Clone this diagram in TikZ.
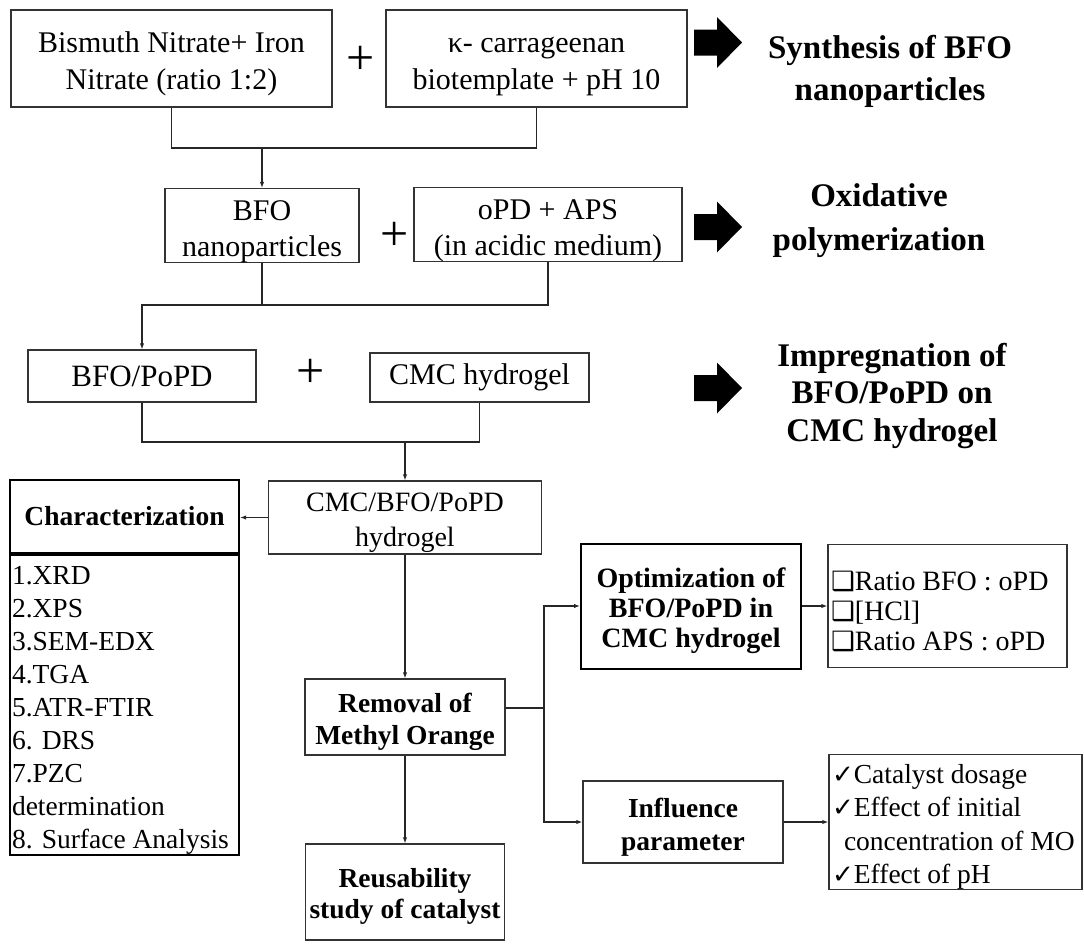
\documentclass[tikz,border=0pt]{standalone}
\usepackage{fontspec}
\setmainfont{Liberation Serif}
\newfontfamily\symfont{DejaVu Sans}[Scale=0.95]
\usetikzlibrary{arrows.meta}
\newcommand{\fs}[2]{\fontsize{#1pt}{#2pt}\selectfont}
\newcommand{\tstrut}{\rule{0pt}{1.05em}}
\newcommand{\chkbox}{{\symfont ❑}}
\newcommand{\tick}{{\symfont ✓}}
\newcommand{\blockarrow}[2]{\fill (#1,#2) ++(0,-13) -- ++(23,0) -- ++(0,-12.5) -- ++(25,25.5) -- ++(-25,25.5) -- ++(0,-12.5) -- ++(-23,0) -- cycle;}

\begin{document}
\begin{tikzpicture}[x=0.5pt,y=-0.5pt,
    box/.style={draw=black!80, line width=0.6pt, inner sep=0pt, align=center},
    thickbox/.style={box, draw=black, line width=1pt},
    title/.style={font=\bfseries\fs{16.5}{21}, align=center},
    link/.style={draw=black!85, line width=0.6pt},
    arr/.style={link, -{Latex[length=3pt,width=2.2pt]}},
    plus/.style={font=\fs{25}{25}, inner sep=0pt}]
\useasboundingbox (0,0) rectangle (1084,944);
% synthesis of BFO
\node[box, minimum width=160.5pt, minimum height=48.5pt, font=\fs{15}{18.5}] (bini) at (171.5,58.5) {\tstrut Bismuth Nitrate+ Iron\\Nitrate (ratio 1:2)};
\node[plus] (plusa) at (361,60) {+};
\node[box, minimum width=150.5pt, minimum height=48.5pt, font=\fs{15}{18.5}] (kcar) at (536.5,58.5) {\tstrut κ- carrageenan\\biotemplate + pH 10};
\blockarrow{694}{42.5}
\node[title] (syn) at (890,66) {\tstrut Synthesis of BFO\\nanoparticles};
\coordinate (ja) at (262,148);
\draw[link] (bini.south) |- (ja) -| (kcar.south);
% polymerization
\node[box, minimum width=97pt, minimum height=36.5pt, font=\fs{15}{18}] (bfo) at (262,225.5) {\tstrut BFO\\nanoparticles};
\node[plus] (plusb) at (395,236) {+};
\node[box, minimum width=134pt, minimum height=36.5pt, font=\fs{15}{18}] (opd) at (548,224.5) {\tstrut oPD + APS\\(in acidic medium)};
\blockarrow{694}{227}
\node[title, font=\bfseries\fs{16.5}{22}] (oxi) at (879,215) {\tstrut Oxidative\\polymerization};
\draw[arr] (ja) -- (bfo.north);
\coordinate (jb) at (262,305);
\draw[link] (bfo.south) -- (jb) -| (opd.south);
% impregnation
\node[box, minimum width=114pt, minimum height=26pt, font=\fs{15.5}{18}] (bp) at (142,376) {BFO/PoPD};
\node[plus] (plusc) at (311,373) {+};
\node[box, minimum width=109.5pt, minimum height=24.5pt, font=\fs{15}{18}] (cmc) at (479.5,377.5) {CMC hydrogel};
\blockarrow{694}{388}
\node[title, font=\bfseries\fs{16.5}{18.75}] (imp) at (892,390) {\tstrut Impregnation of\\BFO/PoPD on\\CMC hydrogel};
\draw[arr] (jb) -| (bp.north);
\coordinate (jc) at (405,442);
\draw[link] (bp.south) |- (jc) -| (cmc.south);
% hydrogel and characterization
\node[box, minimum width=136.5pt, minimum height=36.5pt, font=\fs{14}{17.5}] (hyd) at (405,517.5) {\tstrut CMC/BFO/PoPD\\hydrogel};
\draw[arr] (jc) -- (hyd.north);
\node[thickbox, minimum width=114.5pt, minimum height=36.5pt, font=\bfseries\fs{13.75}{16}] (char) at (124.5,516.5) {Characterization};
\node[thickbox, minimum width=114.5pt, minimum height=150pt, text width=112.5pt, inner xsep=1pt, align=flush left, font=\fs{13.75}{16.5}, anchor=north] (chlist) at (char.south) {\tstrut 1.XRD\\2.XPS\\3.SEM-EDX\\4.TGA\\5.ATR-FTIR\\6. DRS\\7.PZC\\determination\\8. Surface Analysis};
\draw[arr] (hyd.west) -- (hyd.west -| char.east);
% removal of MO
\node[box, minimum width=100pt, minimum height=38pt, font=\bfseries\fs{13.75}{16}] (rem) at (405,717) {\tstrut Removal of\\Methyl Orange};
\draw[arr] (hyd.south) -- (rem.north);
\node[box, minimum width=99.5pt, minimum height=48pt, font=\bfseries\fs{13.75}{15.5}] (reu) at (405,892) {\tstrut Reusability\\study of catalyst};
\draw[arr] (rem.south) -- (reu.north);
\node[thickbox, minimum width=110pt, minimum height=62.5pt, font=\bfseries\fs{14}{15}] (opt) at (691,606) {\tstrut Optimization of\\BFO/PoPD in\\CMC hydrogel};
\node[box, minimum width=119.5pt, minimum height=61.5pt, text width=116.5pt, inner xsep=1.5pt, align=flush left, font=\fs{14}{15}] (optlist) at (947.5,606) {\tstrut\chkbox Ratio BFO : oPD\\\chkbox[HCl]\\\chkbox Ratio APS : oPD};
\node[box, minimum width=100pt, minimum height=41pt, font=\bfseries\fs{13.75}{16.5}] (inf) at (683,822) {\tstrut Influence\\parameter};
\node[box, minimum width=126.5pt, minimum height=66.5pt, text width=123.5pt, inner xsep=1.5pt, align=flush left, font=\fs{13.75}{16.8}] (inflist) at (955.5,822) {\tstrut\tick Catalyst dosage\\\tick Effect of initial\\\hspace*{6pt}concentration of MO\\\tick Effect of pH};
\coordinate (sp) at (544,708);
\draw[link] (rem.east |- sp) -- (sp);
\draw[arr] (sp) |- (opt.west);
\draw[arr] (sp) |- (inf.west);
\draw[arr] (opt.east) -- (optlist.west);
\draw[arr] (inf.east) -- (inflist.west);
\end{tikzpicture}
\end{document}
